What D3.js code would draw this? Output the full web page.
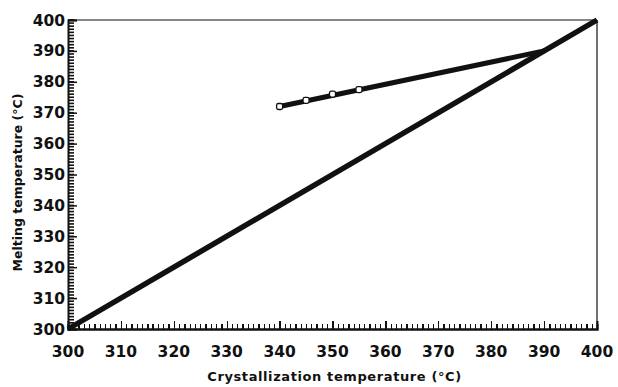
<!DOCTYPE html>
<html>
<head>
<meta charset="utf-8">
<script src="https://cdn.jsdelivr.net/npm/d3@7"></script>
<style>
  html, body { margin: 0; padding: 0; background: #fff; }
  svg text { font-family: "DejaVu Sans", sans-serif; font-weight: bold; fill: #111; }
</style>
</head>
<body>
<svg id="chart" width="618" height="387"></svg>
<script>
// Melting vs crystallization temperature (Hoffman–Weeks style plot)
const crystTemps = [340, 345, 350, 355];
const meltTemps = [372, 374, 376, 377.5];
// extrapolated fit line end point (meets Tm = Tc)
const fitEndTc = 390;
const fitEndTm = 390;
// Tm = Tc reference line
const equalityTc = [300, 400];
const xTickValues = d3.range(300, 401, 10);
const yTickValues = d3.range(300, 401, 10);
const minorTickValues = d3.range(300, 401, 1);

const svg = d3.select("#chart");
const margin = { left: 68, right: 21, top: 20, bottom: 58 };
const W = 618, H = 387;

const x = d3.scaleLinear().domain([300, 400]).range([margin.left, W - margin.right]);
const y = d3.scaleLinear().domain([300, 400]).range([H - margin.bottom, margin.top]);

const ink = "#111";

// frame: top and right thin lines
svg.append("line").attr("x1", x(300)).attr("x2", x(400)).attr("y1", y(400)).attr("y2", y(400))
  .attr("stroke", ink).attr("stroke-width", 1.2);
svg.append("line").attr("x1", x(400)).attr("x2", x(400)).attr("y1", y(400)).attr("y2", y(300))
  .attr("stroke", ink).attr("stroke-width", 1.2);

// bottom axis: minor ticks every degree pointing inward, major every 10
const xAxisMinor = d3.axisTop(x).tickValues(minorTickValues).tickSize(5).tickFormat("");
const xAxisMajor = d3.axisTop(x).tickValues(xTickValues).tickSize(8).tickFormat("");
const gxMinor = svg.append("g").attr("transform", `translate(0,${y(300)})`).call(xAxisMinor);
const gxMajor = svg.append("g").attr("transform", `translate(0,${y(300)})`).call(xAxisMajor);
[gxMinor, gxMajor].forEach(g => {
  g.selectAll("line").attr("stroke", ink).attr("stroke-width", 1.3).attr("shape-rendering", "crispEdges");
  g.select(".domain").attr("stroke", ink).attr("stroke-width", 2);
});

// x tick labels
svg.append("g").selectAll("text").data(xTickValues).join("text")
  .attr("x", d => x(d))
  .attr("y", y(300) + 28)
  .attr("text-anchor", "middle")
  .attr("font-size", 15.5)
  .text(d => d);

// left axis: comb of minor ticks every degree, drawn from the y scale
const yMinor = svg.append("g").attr("class", "y-minor");
yMinor.selectAll("line").data(minorTickValues).join("line")
  .attr("x1", x(300))
  .attr("x2", x(300) + 6)
  .attr("y1", d => y(d))
  .attr("y2", d => y(d))
  .attr("stroke", ink)
  .attr("stroke-width", 1.6);
const yAxisMajor = d3.axisRight(y).tickValues(yTickValues).tickSize(9).tickFormat("");
const gyMajor = svg.append("g").attr("transform", `translate(${x(300)},0)`).call(yAxisMajor);
gyMajor.selectAll("line").attr("stroke", ink).attr("stroke-width", 1.5);
gyMajor.select(".domain").attr("stroke", ink).attr("stroke-width", 2);

// y tick labels
svg.append("g").selectAll("text").data(yTickValues).join("text")
  .attr("x", x(300) - 3)
  .attr("y", d => y(d))
  .attr("dy", "0.36em")
  .attr("text-anchor", "end")
  .attr("font-size", 15.5)
  .text(d => d);

// axis titles
svg.append("text")
  .attr("x", (x(300) + x(400)) / 2 + 2)
  .attr("y", y(300) + 52)
  .attr("text-anchor", "middle")
  .attr("font-size", 13)
  .attr("letter-spacing", 0.6)
  .text("Crystallization temperature (°C)");

svg.append("text")
  .attr("transform", `translate(22,${(y(300) + y(400)) / 2 + 8}) rotate(-90)`)
  .attr("text-anchor", "middle")
  .attr("font-size", 12.5)
  .text("Melting temperature (°C)");

// Tm = Tc line
const line = d3.line().x(d => x(d[0])).y(d => y(d[1]));
svg.append("path")
  .datum(equalityTc.map(t => [t, t]))
  .attr("d", line)
  .attr("fill", "none")
  .attr("stroke", ink)
  .attr("stroke-width", 5.5)
  .attr("stroke-linecap", "butt");

// fitted line through data, extended to the equality line
svg.append("path")
  .datum([[crystTemps[0], meltTemps[0]], [fitEndTc, fitEndTm]])
  .attr("d", line)
  .attr("fill", "none")
  .attr("stroke", ink)
  .attr("stroke-width", 5)
  .attr("stroke-linecap", "butt");

// measured points
svg.append("g").selectAll("rect").data(crystTemps.map((c, i) => [c, meltTemps[i]])).join("rect")
  .attr("x", d => x(d[0]) - 3)
  .attr("y", d => y(d[1]) - 3)
  .attr("width", 6)
  .attr("height", 6)
  .attr("rx", 1.8)
  .attr("fill", "#fff")
  .attr("stroke", ink)
  .attr("stroke-width", 1.3);
</script>
</body>
</html>
